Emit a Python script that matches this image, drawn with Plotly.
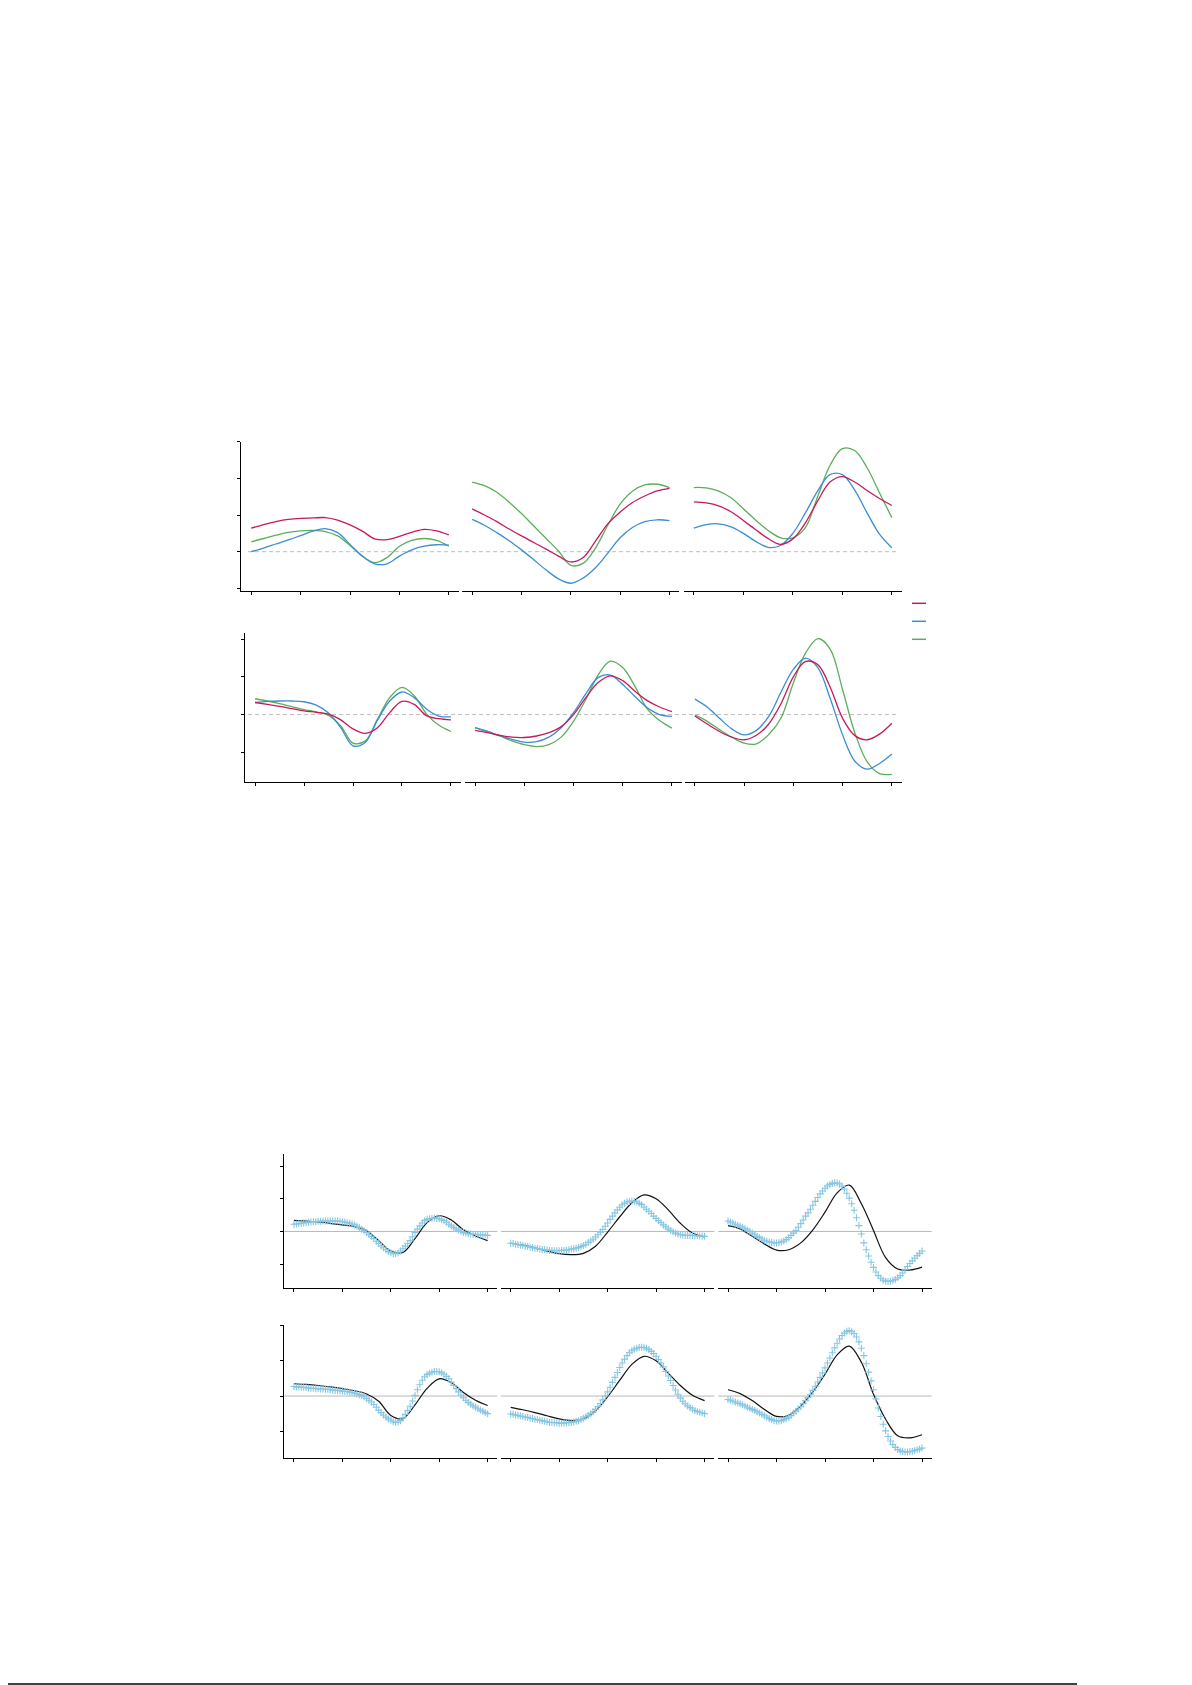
import plotly.graph_objects as go

W, H = 1192, 1685
PAGE_OFF = 8  # browser body margin around the plot div

# sample positions (tick units 0..4)
xs = [0, 0.25, 0.5, 0.75, 1, 1.25, 1.5, 1.75, 2, 2.25, 2.5, 2.75, 3, 3.25, 3.5, 3.75, 4]
xs_fine = [0.0, 0.05, 0.1, 0.15, 0.2, 0.25, 0.3, 0.35, 0.4, 0.45, 0.5, 0.55, 0.6, 0.65, 0.7,
           0.75, 0.8, 0.85, 0.9, 0.95, 1.0, 1.05, 1.1, 1.15, 1.2, 1.25, 1.3, 1.35, 1.4, 1.45,
           1.5, 1.55, 1.6, 1.65, 1.7, 1.75, 1.8, 1.85, 1.9, 1.95, 2.0, 2.05, 2.1, 2.15, 2.2,
           2.25, 2.3, 2.35, 2.4, 2.45, 2.5, 2.55, 2.6, 2.65, 2.7, 2.75, 2.8, 2.85, 2.9, 2.95,
           3.0, 3.05, 3.1, 3.15, 3.2, 3.25, 3.3, 3.35, 3.4, 3.45, 3.5, 3.55, 3.6, 3.65, 3.7,
           3.75, 3.8, 3.85, 3.9, 3.95, 4.0]

# ---- top figure, upper row ----
u1_red = [0.64, 0.74, 0.82, 0.88, 0.91, 0.92, 0.93, 0.86, 0.73, 0.56, 0.35, 0.33, 0.42, 0.53, 0.61, 0.57, 0.46]
u1_blue = [0.0, 0.1, 0.21, 0.32, 0.44, 0.56, 0.63, 0.52, 0.2, -0.12, -0.33, -0.33, -0.12, 0.05, 0.15, 0.19, 0.18]
u1_green = [0.27, 0.36, 0.45, 0.53, 0.57, 0.58, 0.55, 0.43, 0.17, -0.12, -0.3, -0.16, 0.15, 0.31, 0.36, 0.31, 0.15]

u2_red = [1.17, 1.0, 0.82, 0.62, 0.43, 0.25, 0.07, -0.12, -0.28, -0.16, 0.29, 0.76, 1.08, 1.34, 1.52, 1.66, 1.73]
u2_blue = [0.88, 0.72, 0.52, 0.3, 0.05, -0.22, -0.5, -0.74, -0.86, -0.72, -0.44, -0.04, 0.38, 0.66, 0.82, 0.87, 0.85]
u2_green = [1.9, 1.8, 1.62, 1.35, 1.04, 0.7, 0.36, 0.02, -0.37, -0.32, 0.1, 0.72, 1.3, 1.65, 1.82, 1.84, 1.75]

u3_red = [1.36, 1.33, 1.25, 1.09, 0.85, 0.6, 0.36, 0.2, 0.35, 0.78, 1.38, 1.9, 2.05, 1.9, 1.67, 1.45, 1.26]
u3_blue = [0.64, 0.74, 0.76, 0.68, 0.5, 0.28, 0.12, 0.17, 0.5, 1.05, 1.65, 2.1, 2.1, 1.68, 1.06, 0.48, 0.11]
u3_green = [1.75, 1.74, 1.65, 1.47, 1.17, 0.86, 0.58, 0.38, 0.38, 0.65, 1.5, 2.35, 2.81, 2.76, 2.29, 1.61, 0.93]

# ---- top figure, lower row ----
l1_red = [0.32, 0.27, 0.22, 0.16, 0.1, 0.06, 0.01, -0.14, -0.38, -0.5, -0.35, 0.05, 0.35, 0.27, -0.03, -0.11, -0.14]
l1_blue = [0.32, 0.35, 0.36, 0.36, 0.34, 0.25, 0.04, -0.35, -0.83, -0.74, -0.15, 0.36, 0.6, 0.45, 0.15, -0.04, -0.06]
l1_green = [0.42, 0.36, 0.29, 0.21, 0.13, 0.07, -0.02, -0.3, -0.76, -0.7, -0.12, 0.45, 0.72, 0.5, 0.02, -0.28, -0.45]

l2_red = [-0.42, -0.48, -0.55, -0.6, -0.61, -0.57, -0.48, -0.32, 0.0, 0.45, 0.85, 1.03, 0.9, 0.62, 0.37, 0.2, 0.08]
l2_blue = [-0.35, -0.45, -0.56, -0.66, -0.73, -0.72, -0.6, -0.35, 0.05, 0.55, 0.98, 1.05, 0.8, 0.48, 0.18, 0.0, -0.05]
l2_green = [-0.35, -0.45, -0.57, -0.7, -0.8, -0.85, -0.8, -0.6, -0.18, 0.4, 1.05, 1.42, 1.25, 0.75, 0.15, -0.16, -0.36]

l3_red = [-0.04, -0.25, -0.45, -0.6, -0.67, -0.55, -0.25, 0.29, 1.0, 1.41, 1.32, 0.72, -0.1, -0.56, -0.67, -0.52, -0.23]
l3_blue = [0.41, 0.2, -0.1, -0.38, -0.54, -0.42, -0.05, 0.6, 1.2, 1.5, 1.24, 0.42, -0.54, -1.24, -1.45, -1.3, -1.05]
l3_green = [-0.01, -0.18, -0.4, -0.6, -0.76, -0.78, -0.53, -0.09, 0.84, 1.64, 2.02, 1.73, 0.66, -0.49, -1.26, -1.57, -1.59]

# ---- bottom figure: black curves ----
bu1_line = [0.34, 0.32, 0.29, 0.25, 0.2, 0.15, 0.02, -0.28, -0.6, -0.64, -0.22, 0.27, 0.48, 0.35, 0.05, -0.14, -0.28]
bu2_line = [-0.36, -0.42, -0.5, -0.6, -0.68, -0.71, -0.67, -0.45, -0.02, 0.45, 0.88, 1.12, 1.0, 0.66, 0.25, -0.05, -0.17]
bu3_line = [0.18, 0.08, -0.15, -0.38, -0.57, -0.56, -0.35, 0.05, 0.59, 1.18, 1.42, 0.85, 0.03, -0.8, -1.15, -1.18, -1.09]
bl1_line = [0.35, 0.33, 0.3, 0.26, 0.21, 0.15, 0.06, -0.15, -0.55, -0.64, -0.25, 0.22, 0.49, 0.38, 0.1, -0.12, -0.27]
bl2_line = [-0.32, -0.39, -0.47, -0.56, -0.65, -0.7, -0.65, -0.42, -0.02, 0.45, 0.9, 1.13, 1.0, 0.65, 0.3, 0.02, -0.13]
bl3_line = [0.18, 0.07, -0.13, -0.38, -0.58, -0.55, -0.28, 0.12, 0.62, 1.17, 1.42, 0.96, 0.05, -0.66, -1.13, -1.19, -1.1]

# ---- bottom figure: cross markers ----
bu1_cross = [0.22, 0.23, 0.24, 0.25, 0.26, 0.27, 0.28, 0.29, 0.30, 0.30, 0.31, 0.31, 0.32, 0.32,
             0.32, 0.32, 0.32, 0.32, 0.32, 0.31, 0.30, 0.29, 0.27, 0.25, 0.23, 0.20, 0.16, 0.12,
             0.07, 0.02, -0.03, -0.09, -0.15, -0.22, -0.30, -0.37, -0.44, -0.50, -0.56, -0.61,
             -0.65, -0.68, -0.68, -0.65, -0.60, -0.53, -0.45, -0.37, -0.28, -0.16, -0.03, 0.07,
             0.17, 0.26, 0.33, 0.37, 0.39, 0.40, 0.41, 0.40, 0.39, 0.36, 0.33, 0.28, 0.22, 0.17,
             0.12, 0.08, 0.04, 0.00, -0.03, -0.05, -0.07, -0.08, -0.09, -0.09, -0.10, -0.10,
             -0.11, -0.11, -0.12]
bu2_cross = [-0.36, -0.37, -0.39, -0.40, -0.42, -0.43, -0.45, -0.46, -0.48, -0.49, -0.51, -0.52,
             -0.54, -0.55, -0.56, -0.57, -0.58, -0.58, -0.59, -0.59, -0.59, -0.58, -0.58, -0.57,
             -0.56, -0.54, -0.53, -0.51, -0.49, -0.46, -0.43, -0.39, -0.34, -0.29, -0.24, -0.17,
             -0.10, -0.02, 0.06, 0.16, 0.26, 0.37, 0.47, 0.57, 0.66, 0.74, 0.81, 0.86, 0.90, 0.92,
             0.93, 0.92, 0.90, 0.86, 0.82, 0.75, 0.68, 0.62, 0.55, 0.47, 0.40, 0.33, 0.27, 0.20,
             0.14, 0.08, 0.03, -0.01, -0.05, -0.08, -0.10, -0.11, -0.12, -0.12, -0.12, -0.12,
             -0.13, -0.13, -0.14, -0.14, -0.15]
bu3_cross = [0.32, 0.29, 0.26, 0.22, 0.19, 0.16, 0.13, 0.08, 0.04, 0.00, -0.05, -0.10, -0.15,
             -0.19, -0.23, -0.27, -0.30, -0.32, -0.34, -0.35, -0.35, -0.34, -0.32, -0.29, -0.25,
             -0.19, -0.12, -0.05, 0.03, 0.13, 0.24, 0.35, 0.47, 0.57, 0.68, 0.80, 0.92, 1.04,
             1.15, 1.24, 1.32, 1.39, 1.44, 1.47, 1.49, 1.48, 1.45, 1.39, 1.30, 1.17, 1.02, 0.85,
             0.65, 0.42, 0.18, -0.08, -0.35, -0.56, -0.75, -0.94, -1.10, -1.24, -1.35, -1.43,
             -1.49, -1.52, -1.53, -1.52, -1.50, -1.47, -1.42, -1.35, -1.27, -1.17, -1.07, -0.98,
             -0.90, -0.82, -0.74, -0.67, -0.60]
bl1_cross = [0.27, 0.26, 0.26, 0.25, 0.25, 0.24, 0.23, 0.22, 0.22, 0.21, 0.21, 0.20, 0.20, 0.19,
             0.19, 0.18, 0.17, 0.16, 0.16, 0.15, 0.14, 0.13, 0.13, 0.11, 0.10, 0.08, 0.06, 0.04,
             0.02, -0.02, -0.07, -0.12, -0.17, -0.24, -0.32, -0.40, -0.47, -0.54, -0.60, -0.65,
             -0.69, -0.73, -0.75, -0.74, -0.70, -0.62, -0.52, -0.41, -0.29, -0.14, 0.02, 0.18,
             0.32, 0.45, 0.55, 0.61, 0.65, 0.68, 0.70, 0.70, 0.69, 0.66, 0.62, 0.56, 0.49, 0.40,
             0.30, 0.21, 0.12, 0.03, -0.05, -0.12, -0.18, -0.23, -0.28, -0.32, -0.36, -0.40,
             -0.43, -0.47, -0.50]
bl2_cross = [-0.51, -0.52, -0.54, -0.55, -0.57, -0.58, -0.60, -0.61, -0.63, -0.64, -0.66, -0.67,
             -0.69, -0.70, -0.72, -0.73, -0.75, -0.75, -0.76, -0.76, -0.77, -0.77, -0.77, -0.76,
             -0.76, -0.75, -0.74, -0.72, -0.70, -0.67, -0.63, -0.59, -0.55, -0.50, -0.45, -0.38,
             -0.30, -0.21, -0.11, 0.00, 0.12, 0.25, 0.39, 0.53, 0.67, 0.81, 0.94, 1.05, 1.15, 1.23,
             1.29, 1.33, 1.36, 1.38, 1.39, 1.38, 1.36, 1.32, 1.27, 1.21, 1.13, 1.04, 0.94, 0.83,
             0.70, 0.57, 0.44, 0.30, 0.17, 0.05, -0.06, -0.15, -0.22, -0.28, -0.33, -0.37, -0.41,
             -0.44, -0.46, -0.48, -0.50]
bl3_cross = [-0.10, -0.12, -0.15, -0.17, -0.20, -0.22, -0.25, -0.28, -0.32, -0.35, -0.38, -0.41,
             -0.45, -0.48, -0.52, -0.56, -0.60, -0.64, -0.67, -0.70, -0.71, -0.71, -0.70, -0.67,
             -0.64, -0.60, -0.55, -0.49, -0.43, -0.37, -0.30, -0.22, -0.13, -0.04, 0.05, 0.16,
             0.28, 0.40, 0.53, 0.66, 0.80, 0.94, 1.08, 1.23, 1.37, 1.50, 1.62, 1.72, 1.79, 1.84,
             1.86, 1.83, 1.78, 1.68, 1.54, 1.36, 1.15, 0.92, 0.68, 0.43, 0.18, -0.08, -0.34,
             -0.58, -0.80, -0.99, -1.15, -1.28, -1.38, -1.46, -1.52, -1.56, -1.58, -1.59, -1.59,
             -1.58, -1.57, -1.55, -1.53, -1.51, -1.48]

RED, BLUE, GREEN = "#c8195c", "#3a8ed6", "#5caf5a"
CROSS = "#86c6e2"


def fx(p):
    return (p - PAGE_OFF) / W


def fy(p):
    return 1 - (p - PAGE_OFF) / H


# pixel layout of the four rows (top edge, bottom edge), y range, ticks, panel x spans
rows = [
    dict(top=441.7, bot=591.3, rng=[-1.08, 3.0], ticks=[-1, 0, 1, 2, 3],
         spans=[(241.3, 458.7), (462.3, 679.3), (684, 901.7)]),
    dict(top=632.7, bot=782.3, rng=[-1.80, 2.175], ticks=[-1, 0, 1, 2],
         spans=[(245.3, 460.7), (465.3, 681.7), (685, 901.7)]),
    dict(top=1154, bot=1288, rng=[-1.73, 2.37], ticks=[-1, 0, 1, 2],
         spans=[(284.3, 497.3), (501, 714.3), (718.3, 931.7)]),
    dict(top=1325, bot=1458.3, rng=[-1.77, 2.02], ticks=[-1, 0, 1, 2],
         spans=[(284.3, 497.3), (501, 714.3), (718.3, 931.7)]),
]

fig = go.Figure()
layout = dict(width=W, height=H, margin=dict(l=0, r=0, t=0, b=0),
              paper_bgcolor="white", plot_bgcolor="white", showlegend=False)

axline = dict(showline=True, linecolor="black", linewidth=1.3, ticks="outside",
              ticklen=3, tickwidth=1, tickcolor="black", showticklabels=False,
              showgrid=False, zeroline=False)


def ref(kind, n):
    return kind if n == 1 else f"{kind}{n}"


for r, row in enumerate(rows):
    yn = r + 1
    layout[ref("yaxis", yn)] = dict(
        axline, domain=[fy(row["bot"]), fy(row["top"])], range=row["rng"],
        tickvals=row["ticks"], anchor=ref("x", r * 3 + 1))
    for p, (x0, x1) in enumerate(row["spans"]):
        xn = r * 3 + p + 1
        layout[ref("xaxis", xn)] = dict(
            axline, domain=[fx(x0), fx(x1)], range=[-0.2, 4.2],
            tickvals=[0, 1, 2, 3, 4], anchor=ref("y", yn))

# upper figure curves
top_sets = [
    [(u1_red, u1_blue, u1_green), (u2_red, u2_blue, u2_green), (u3_red, u3_blue, u3_green)],
    [(l1_red, l1_blue, l1_green), (l2_red, l2_blue, l2_green), (l3_red, l3_blue, l3_green)],
]
for r, panels in enumerate(top_sets):
    for p, (rd, bl, gr) in enumerate(panels):
        xa, ya = ref("x", r * 3 + p + 1), ref("y", r + 1)
        for vals, col in [(gr, GREEN), (bl, BLUE), (rd, RED)]:
            fig.add_trace(go.Scatter(x=xs, y=vals, mode="lines", xaxis=xa, yaxis=ya,
                                     line=dict(color=col, width=1.3, shape="spline", smoothing=1.0)))

# lower figure: model line + crosses
bot_sets = [
    [(bu1_line, bu1_cross), (bu2_line, bu2_cross), (bu3_line, bu3_cross)],
    [(bl1_line, bl1_cross), (bl2_line, bl2_cross), (bl3_line, bl3_cross)],
]
for r, panels in enumerate(bot_sets):
    for p, (ln, cr) in enumerate(panels):
        xa, ya = ref("x", (r + 2) * 3 + p + 1), ref("y", r + 3)
        fig.add_trace(go.Scatter(x=xs, y=ln, mode="lines", xaxis=xa, yaxis=ya,
                                 line=dict(color="#111111", width=1.2, shape="spline", smoothing=1.0)))
        fig.add_trace(go.Scatter(x=xs_fine, y=cr, mode="markers", xaxis=xa, yaxis=ya,
                                 marker=dict(symbol="cross-thin", size=5,
                                             line=dict(color=CROSS, width=1.1))))

shapes = []
# dashed zero lines across the upper figure
for yn in (1, 2):
    shapes.append(dict(type="line", xref="paper", yref=ref("y", yn), x0=fx(248), x1=fx(898),
                       y0=0, y1=0, layer="below",
                       line=dict(color="#bdbdbd", width=1, dash="4px,3px")))
# solid zero lines in each lower panel
for r in (2, 3):
    for p in range(3):
        xn = r * 3 + p + 1
        shapes.append(dict(type="line", xref=f"{ref('x', xn)} domain", yref=ref("y", r + 1),
                           x0=0, x1=1, y0=0, y1=0, layer="below",
                           line=dict(color="#b8b8b8", width=1)))
# legend keys (no text)
for yy, col in [(603.3, RED), (621.3, BLUE), (639.3, GREEN)]:
    shapes.append(dict(type="line", xref="paper", yref="paper", x0=fx(912), x1=fx(926),
                       y0=fy(yy), y1=fy(yy), line=dict(color=col, width=1.5)))
# page footer rule
shapes.append(dict(type="line", xref="paper", yref="paper", x0=fx(5), x1=fx(1077),
                   y0=fy(1684), y1=fy(1684), line=dict(color="black", width=1.5)))

layout["shapes"] = shapes
fig.update_layout(**layout)

fig.write_html("out.html")
